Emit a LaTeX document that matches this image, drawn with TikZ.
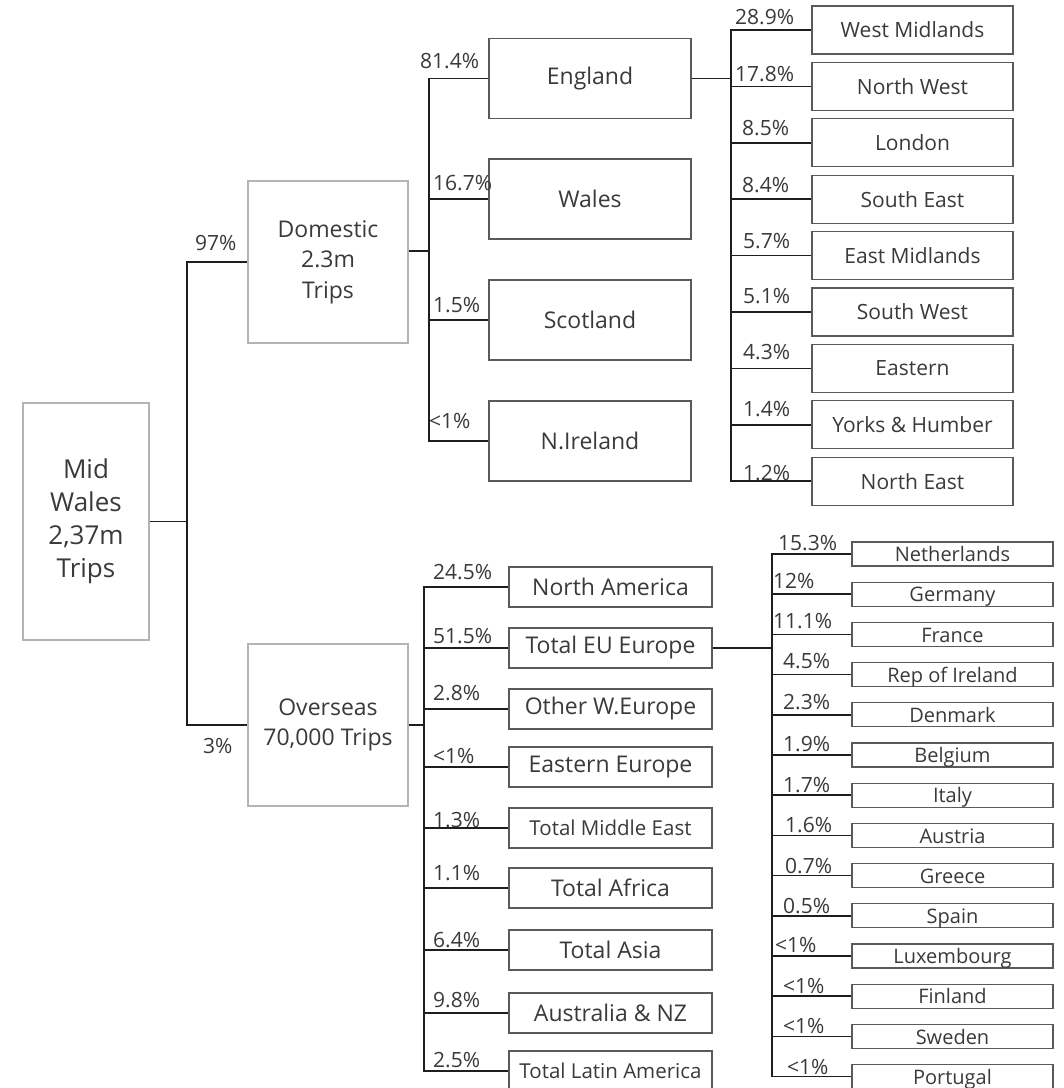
\documentclass[tikz,border=0pt]{standalone}
\usepackage{fontspec}
\setmainfont{Open Sans}
\definecolor{txt}{HTML}{3A3A3A}
\definecolor{boxlight}{HTML}{B4B4B4}
\definecolor{boxdark}{HTML}{5A5A5A}
\definecolor{wire}{HTML}{1E1E1E}
\begin{document}
\begin{tikzpicture}[x=1pt,y=-1pt,
  every node/.style={text=txt},
  rootbox/.style={draw=boxlight, line width=1.2pt, minimum width=126pt, minimum height=237pt,
    align=center, font=\fontsize{26}{33}\selectfont},
  groupbox/.style={draw=boxlight, line width=1.2pt, minimum width=160pt, minimum height=162pt,
    align=center, font=\fontsize{23}{30.5}\selectfont},
  nationbox/.style={draw=boxdark, line width=1.3pt, minimum width=202pt, minimum height=80pt,
    font=\fontsize{23}{28}\selectfont},
  regionbox/.style={draw=boxdark, line width=1.3pt, minimum width=201pt, minimum height=48pt,
    font=\fontsize{21}{25}\selectfont},
  zonebox/.style={draw=boxdark, line width=1.3pt, minimum width=203pt, minimum height=40pt,
    inner sep=1pt, font=\fontsize{23}{27}\selectfont},
  countrybox/.style={draw=boxdark, line width=1.2pt, minimum width=201pt, minimum height=24pt,
    inner sep=0pt, text height=18.5pt, text depth=3pt, font=\fontsize{20}{22}\selectfont},
  pct/.style={inner sep=0pt, anchor=base west, font=\fontsize{21}{24}\selectfont},
  conn/.style={draw=wire, line width=1.5pt}]

\fill[white] (0,0) rectangle (1064,1088);
\useasboundingbox (0,0) rectangle (1064,1088);

% trunk columns
\coordinate (t0) at (187,0);
\coordinate (t1) at (429,0);
\coordinate (t2) at (731,0);
\coordinate (t3) at (424,0);
\coordinate (t4) at (772,0);

% root and first split
\node[rootbox] (mw) at (86,521.5) {Mid\\Wales\\2,37m\\Trips};
\node[groupbox] (dom) at (328,262) {Domestic\\2.3m\\Trips};
\node[groupbox] (ovs) at (328,725) {Overseas\\70,000 Trips};

% home nations
\node[nationbox] (eng) at (590,78.5) {England};
\node[nationbox] (wal) at (590,199) {Wales};
\node[nationbox] (sco) at (590,320) {Scotland};
\node[nationbox] (nir) at (590,441) {N.Ireland};

% English regions
\foreach \n [count=\i] in {West Midlands, North West, London, South East, East Midlands,
    South West, Eastern, Yorks \& Humber, North East}
  \node[regionbox] (r\i) at (912.5,{30+56.4*(\i-1)}) {\n};

% overseas markets
\node[zonebox] (o1) at (610.5,587) {North America};
\node[zonebox] (o2) at (610.5,648) {Total EU Europe};
\node[zonebox] (o3) at (610.5,709) {Other W.Europe};
\node[zonebox] (o4) at (610.5,767) {Eastern Europe};
\node[zonebox] (o5) at (610.5,828) {\fontsize{20.5}{24}\selectfont Total Middle East};
\node[zonebox] (o6) at (610.5,888) {Total Africa};
\node[zonebox] (o7) at (610.5,950) {Total Asia};
\node[zonebox] (o8) at (610.5,1013) {Australia \& NZ};
\node[zonebox] (o9) at (610.5,1071) {\fontsize{20.5}{24}\selectfont Total Latin America};

% EU countries
\foreach \n [count=\i] in {Netherlands, Germany, France, Rep of Ireland, Denmark, Belgium,
    Italy, Austria, Greece, Spain, Luxembourg, Finland, Sweden, Portugal}
  \node[countrybox] (c\i) at (952.5,{554+40.2*(\i-1)}) {\n};

% connectors: root split
\draw[conn] (mw.east) -- (mw.east -| t0);
\draw[conn] (dom.west) -- (dom.west -| t0) -- (ovs.west -| t0) -- (ovs.west);

% connectors: domestic
\draw[conn] ([yshift=11pt]dom.east) -- ([yshift=11pt]dom.east -| t1);
\draw[conn] (eng.west) -- (eng.west -| t1) -- (nir.west -| t1) -- (nir.west);
\draw[conn] (wal.west -| t1) -- (wal.west);
\draw[conn] (sco.west -| t1) -- (sco.west);

% connectors: England to regions
\draw[conn] (eng.east) -- (eng.east -| t2);
\draw[conn] (r1.west) -- (r1.west -| t2) -- (r9.west -| t2) -- (r9.west);
\foreach \i in {2,...,8} \draw[conn] (r\i.west -| t2) -- (r\i.west);

% connectors: overseas
\draw[conn] (ovs.east) -- (ovs.east -| t3);
\draw[conn] (o1.west) -- (o1.west -| t3) -- (o9.west -| t3) -- (o9.west);
\foreach \i in {2,...,8} \draw[conn] (o\i.west -| t3) -- (o\i.west);

% connectors: EU to countries
\draw[conn] (o2.east) -- (o2.east -| t4);
\draw[conn] (c1.west) -- (c1.west -| t4) -- (c14.west -| t4) -- (c14.west);
\foreach \i in {2,...,13} \draw[conn] (c\i.west -| t4) -- (c\i.west);

% shares
\node[pct] (p0a) at (195,250) {97\%};
\node[pct] (p0b) at (203,753) {3\%};

\foreach \t/\x/\y [count=\i] in {81.4\%/420/68, 16.7\%/433/190, 1.5\%/433/312, <1\%/429/428}
  \node[pct] (pn\i) at (\x,\y) {\t};

\foreach \t/\x/\y [count=\i] in {28.9\%/735/24, 17.8\%/735/81, 8.5\%/742/135, 8.4\%/742/192,
    5.7\%/743/248, 5.1\%/743/303, 4.3\%/743/359, 1.4\%/743/416, 1.2\%/743/480}
  \node[pct] (pr\i) at (\x,\y) {\t};

\foreach \t/\y [count=\i] in {24.5\%/579, 51.5\%/643, 2.8\%/700, <1\%/763, 1.3\%/827,
    1.1\%/880, 6.4\%/947, 9.8\%/1007, 2.5\%/1067}
  \node[pct] (po\i) at (433,\y) {\t};

\foreach \t/\x/\y [count=\i] in {15.3\%/778/550, 12\%/773/588, 11.1\%/773/628, 4.5\%/783/668,
    2.3\%/783/709, 1.9\%/783/751, 1.7\%/783/792, 1.6\%/785/832, 0.7\%/785/873,
    0.5\%/783/913, <1\%/775/952, <1\%/783/993, <1\%/783/1033, <1\%/787/1074}
  \node[pct] (pc\i) at (\x,\y) {\t};

\end{tikzpicture}
\end{document}
